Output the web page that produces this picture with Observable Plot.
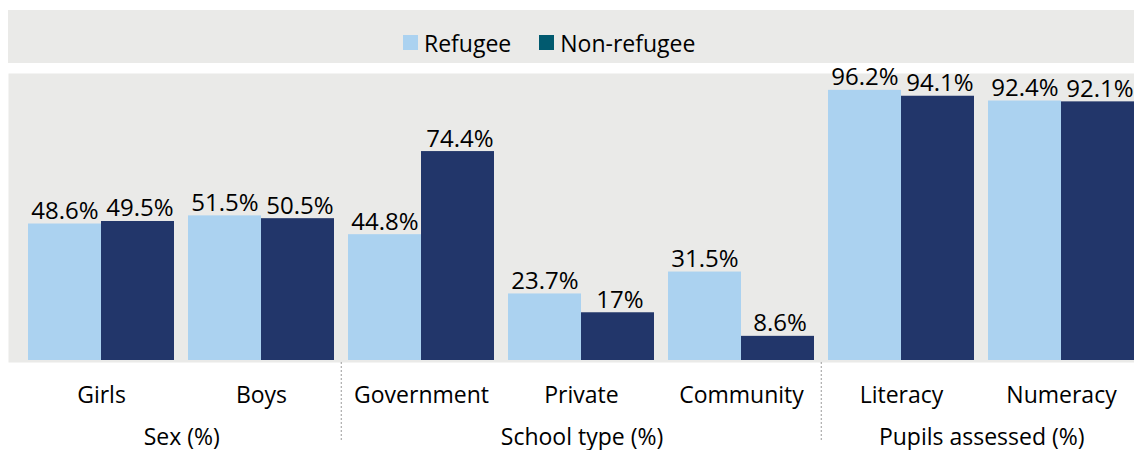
<!DOCTYPE html>
<html>
<head>
<meta charset="utf-8">
<script src="https://cdn.jsdelivr.net/npm/d3@7"></script>
<script src="https://cdn.jsdelivr.net/npm/@observablehq/plot@0.6"></script>
<style>
  html, body { margin: 0; padding: 0; background: #fff; overflow: hidden; width: 1134px; height: 450px; }
  body { font-family: "Open Sans", sans-serif; color: #000; }
  #legend { box-sizing: border-box; margin: 10px 0 0 8px; height: 53px; background: #EAEAE8;
            display: flex; align-items: center; padding: 12px 0 0 395px; font-size: 23px; }
  #legend .item { display: flex; align-items: center; margin-right: 28px; }
  #legend .sw { width: 15px; height: 15px; margin-right: 6px; }
</style>
</head>
<body>
<div id="legend"></div>
<div id="chart"></div>
<script>
const categories = ["Girls", "Boys", "Government", "Private", "Community", "Literacy", "Numeracy"];
const refugee = [48.6, 51.5, 44.8, 23.7, 31.5, 96.2, 92.4];
const nonRefugee = [49.5, 50.5, 74.4, 17, 8.6, 94.1, 92.1];
const groupLabels = ["Sex (%)", "School type (%)", "Pupils assessed (%)"];
const groupMembers = [["Girls", "Boys"], ["Government", "Private", "Community"], ["Literacy", "Numeracy"]];
const seriesNames = ["Refugee", "Non-refugee"];
const barColors = ["#ABD2F0", "#22366A"];
const legendColors = ["#ABD2F0", "#015A6F"];

// legend
const legend = document.getElementById("legend");
seriesNames.forEach((s, i) => {
  const it = document.createElement("div");
  it.className = "item";
  it.innerHTML = `<span class="sw" style="background:${legendColors[i]}"></span><span>${s}</span>`;
  legend.appendChild(it);
});

const table = categories.map((c, i) => ({category: c, refugee: refugee[i], nonRefugee: nonRefugee[i]}));

const W = 1134, H = 387, mTop = 10, mBottom = 88;
const xRange = [18.75, 1142.25];
const pInner = 0.0903;
const step = (xRange[1] - xRange[0]) / categories.length;
const bw = step * (1 - pInner);
const plotH = H - mTop - mBottom;

const groupMarks = groupLabels.map((g, i) =>
  Plot.text([g], {
    x: () => groupMembers[i][0],
    text: d => d,
    frameAnchor: "bottom",
    dx: (groupMembers[i].length - 1) / 2 * step,
    dy: 82,
    lineAnchor: "bottom",
    fontSize: 23
  })
);

const chart = Plot.plot({
  width: W,
  height: H,
  marginTop: mTop,
  marginBottom: mBottom,
  marginLeft: 8,
  marginRight: 0,
  style: {fontFamily: "Open Sans", fontSize: "23px", color: "#000", background: "transparent", overflow: "visible"},
  x: {domain: categories, range: xRange, paddingInner: pInner, paddingOuter: pInner / 2, align: 0.5,
      tickSize: 0, tickPadding: 24, label: null},
  y: {domain: [0, 102.2], insetBottom: 2, axis: null},
  marks: [
    Plot.frame({fill: "#EAEAE8", stroke: "none"}),
    Plot.barY(table, {x: "category", y: "refugee", fill: barColors[0], insetRight: bw / 2}),
    Plot.barY(table, {x: "category", y: "nonRefugee", fill: barColors[1], insetLeft: bw / 2}),
    Plot.text(table, {x: "category", y: "refugee", text: d => d.refugee + "%", dx: -bw / 4, dy: -5, lineAnchor: "bottom", fontSize: 24, fill: "#000"}),
    Plot.text(table, {x: "category", y: "nonRefugee", text: d => d.nonRefugee + "%", dx: bw / 4 + 2, dy: -5, lineAnchor: "bottom", fontSize: 24, fill: "#000"}),
    Plot.ruleX([groupMembers[1][0], groupMembers[2][0]], {
      x: d => d, dx: -step / 2, insetTop: plotH, insetBottom: -80,
      stroke: "#9A9A9A", strokeDasharray: "2,2", strokeWidth: 1
    }),
    ...groupMarks
  ]
});
document.getElementById("chart").appendChild(chart);
</script>
</body>
</html>
